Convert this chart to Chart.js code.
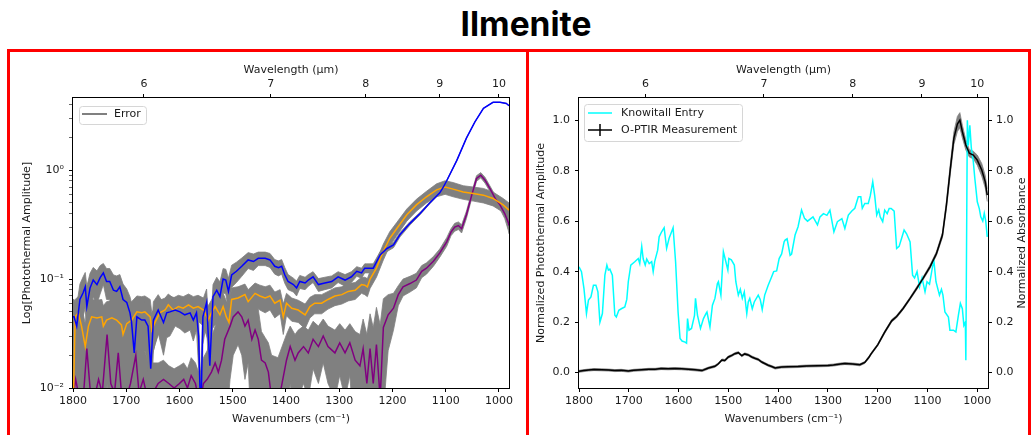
<!DOCTYPE html>
<html>
<head>
<meta charset="utf-8">
<script src="https://cdn.jsdelivr.net/npm/chart.js@4.4.0/dist/chart.umd.min.js"></script>
<style>
    html, body { margin: 0; padding: 0; background: #fff; }
    body { width: 1031px; height: 435px; position: relative; overflow: hidden; }
    #title { position: absolute; left: 376px; top: 8px; width: 300px; text-align: center;
             font-family: 'Inter', 'Noto Sans', sans-serif; font-weight: 700; font-size: 33.5px; line-height: 33px; color: #000; }
    #leftChart { position: absolute; left: 0; top: 0; }
    #rightChart { position: absolute; left: 529px; top: 0; }
    #frame { position: absolute; left: 7px; top: 49px; width: 1024px; height: 400px; box-sizing: border-box;
             border: 3px solid #ff0000; border-bottom: none; }
    #divider { position: absolute; left: 526px; top: 49px; width: 3px; height: 400px; background: #ff0000; }
</style>
</head>
<body>
<div id="title">Ilmenite</div>
<canvas id="leftChart" width="520" height="435"></canvas>
<canvas id="rightChart" width="502" height="435"></canvas>
<div id="frame"></div>
<div id="divider"></div>
<script>
"use strict";

// ---- axis ticks ----
const wavenumberTicks = [1800, 1700, 1600, 1500, 1400, 1300, 1200, 1100, 1000];
const wavelengthTicks = [6, 7, 8, 9, 10];
const logMajorTicks = [0.01, 0.1, 1];
const logMajorLabels = ['10⁻²', '10⁻¹', '10⁰'];
const normTicks = [0, 0.2, 0.4, 0.6, 0.8, 1.0];

// ---- left panel: photothermal amplitude (log) ----
const blueWn = [1800,1798,1793,1787,1781,1777,1774,1768,1762,1755,1749,1743,1737,1731,1724,1718,1712,1706,1699,1693,
    1690,1685,1680,1671,1665,1659,1654,1649,1640,1630,1624,1618,1608,1599,1590,1580,1574,1568,1564,1560,
    1556,1549,1543,1537,1530,1524,1518,1513,1508,1502,1493,1483,1471,1461,1452,1439,1430,1421,1414,1408,
    1402,1396,1386,1380,1374,1364,1358,1349,1339,1327,1314,1302,1289,1277,1267,1258,1252,1248,1236,1223,
    1211,1198,1186,1167,1148,1130,1111,1105,1098,1079,1061,1045,1029,1011,998,986,981];
const blueAmp = [0.045,0.045,0.037,0.065,0.075,0.085,0.056,0.083,0.098,0.089,0.103,0.114,0.095,0.095,0.079,0.077,0.085,0.065,0.061,0.049,
    0.040,0.021,0.045,0.042,0.042,0.037,0.015,0.042,0.052,0.040,0.049,0.050,0.052,0.050,0.047,0.049,0.042,0.049,0.030,0.005,
    0.045,0.061,0.016,0.069,0.079,0.069,0.100,0.098,0.077,0.109,0.118,0.131,0.150,0.145,0.155,0.155,0.150,0.131,0.127,0.131,
    0.109,0.095,0.089,0.083,0.095,0.092,0.098,0.105,0.089,0.092,0.095,0.105,0.098,0.105,0.118,0.114,0.126,0.126,0.126,0.167,
    0.190,0.206,0.255,0.325,0.400,0.500,0.620,0.690,0.800,1.23,1.97,2.78,3.70,4.20,4.20,4.10,3.90];
const blueErr = [0.02,0.02,0.02,0.025,0.03,0.03,0.03,0.03,0.03,0.03,0.03,0.025,0.03,0.03,0.03,0.03,0.025,0.025,0.02,0.02,
    0.02,0.015,0.02,0.02,0.02,0.02,0.01,0.02,0.02,0.02,0.02,0.02,0.015,0.015,0.015,0.015,0.015,0.015,0.015,0.005,
    0.02,0.02,0.01,0.02,0.025,0.025,0.025,0.025,0.025,0.025,0.025,0.025,0.025,0.025,0.022,0.022,0.022,0.02,0.02,0.02,
    0.018,0.015,0.013,0.013,0.013,0.012,0.012,0.012,0.012,0.012,0.012,0.012,0.012,0.012,0.012,0.012,0.012,0.012,0.012,0.012,
    0.012,0.012,0.012,0.012,0.01,0.01,0.01,0.01,0.01,0.01,0.01,0.01,0.01,0.01,0.01,0.01,0.01];

const orangeWn = [1800,1796,1790,1784,1777,1771,1765,1755,1746,1743,1737,1727,1718,1709,1706,1699,1690,1680,1671,1665,
    1655,1652,1646,1637,1627,1621,1612,1602,1593,1583,1574,1565,1555,1546,1540,1533,1524,1518,1512,1507,
    1502,1490,1477,1471,1458,1449,1439,1430,1421,1411,1405,1399,1389,1377,1364,1355,1346,1333,1321,1308,
    1295,1283,1270,1258,1252,1247,1242,1230,1217,1205,1192,1173,1155,1136,1117,1101,1086,1067,1048,1029,
    1011,992,981];
const orangeAmp = [0.005,0.045,0.049,0.037,0.024,0.037,0.045,0.044,0.045,0.037,0.042,0.044,0.042,0.038,0.031,0.039,0.042,0.050,0.049,0.050,
    0.045,0.034,0.040,0.049,0.052,0.058,0.052,0.056,0.054,0.058,0.054,0.056,0.052,0.042,0.049,0.056,0.047,0.056,0.045,0.040,
    0.065,0.067,0.072,0.062,0.074,0.070,0.067,0.070,0.060,0.064,0.045,0.060,0.054,0.052,0.047,0.056,0.060,0.060,0.065,0.070,
    0.072,0.077,0.079,0.089,0.088,0.085,0.100,0.126,0.180,0.237,0.290,0.390,0.480,0.570,0.660,0.700,0.670,0.630,0.610,0.590,
    0.550,0.480,0.430];
const orangeErr = [0.01,0.02,0.02,0.02,0.015,0.02,0.02,0.02,0.02,0.02,0.02,0.02,0.02,0.02,0.02,0.02,0.02,0.02,0.02,0.02,
    0.02,0.015,0.015,0.015,0.015,0.015,0.015,0.015,0.015,0.015,0.015,0.015,0.015,0.015,0.015,0.018,0.018,0.018,0.018,0.018,
    0.018,0.018,0.018,0.018,0.018,0.018,0.018,0.018,0.016,0.016,0.014,0.014,0.013,0.012,0.012,0.012,0.012,0.012,0.012,0.013,
    0.013,0.014,0.014,0.015,0.016,0.016,0.018,0.022,0.03,0.035,0.04,0.05,0.06,0.07,0.09,0.1,0.1,0.09,0.09,0.09,
    0.08,0.07,0.07];

const purpleWn = [1800,1795,1788,1780,1774,1768,1760,1752,1745,1736,1729,1722,1715,1709,1700,1692,1682,1676,1668,1660,
    1650,1640,1630,1620,1610,1600,1592,1585,1578,1570,1562,1555,1548,1540,1533,1527,1521,1515,1505,1499,
    1490,1483,1477,1471,1464,1458,1452,1446,1439,1433,1427,1415,1399,1392,1383,1377,1367,1358,1349,1339,
    1330,1321,1308,1299,1289,1280,1270,1261,1255,1248,1242,1236,1230,1223,1217,1208,1198,1189,1180,1167,
    1155,1145,1136,1123,1111,1098,1090,1083,1076,1070,1061,1051,1042,1034,1026,1017,1007,998,989,982,981];
const purpleAmp = [0.008,0.012,0.008,0.009,0.023,0.010,0.008,0.012,0.009,0.031,0.011,0.009,0.021,0.009,0.008,0.011,0.020,0.009,0.012,0.008,
    0.009,0.011,0.012,0.011,0.010,0.011,0.012,0.010,0.013,0.011,0.007,0.011,0.012,0.014,0.017,0.014,0.018,0.028,0.037,0.045,
    0.050,0.045,0.037,0.042,0.028,0.034,0.028,0.018,0.017,0.014,0.008,0.007,0.018,0.024,0.018,0.021,0.024,0.021,0.028,0.024,
    0.030,0.024,0.021,0.026,0.021,0.026,0.018,0.016,0.023,0.011,0.023,0.011,0.025,0.008,0.036,0.047,0.054,0.072,0.085,0.091,
    0.098,0.118,0.126,0.146,0.174,0.220,0.270,0.300,0.310,0.290,0.390,0.590,0.840,0.900,0.810,0.680,0.550,0.480,0.400,0.327,0.310];
const purpleErr = [0.02,0.02,0.02,0.02,0.02,0.02,0.02,0.02,0.02,0.02,0.02,0.02,0.02,0.018,0.015,0.015,0.015,0.015,0.012,0.01,
    0.008,0.006,0.006,0.005,0.005,0.005,0.005,0.005,0.006,0.006,0.006,0.008,0.01,0.015,0.02,0.02,0.025,0.025,0.025,0.025,
    0.025,0.025,0.025,0.025,0.025,0.025,0.025,0.015,0.012,0.012,0.012,0.012,0.013,0.013,0.013,0.013,0.013,0.013,0.013,0.013,
    0.013,0.013,0.013,0.013,0.013,0.013,0.015,0.015,0.02,0.02,0.025,0.025,0.03,0.03,0.03,0.025,0.02,0.015,0.015,0.015,
    0.015,0.015,0.015,0.015,0.015,0.02,0.02,0.025,0.025,0.025,0.03,0.04,0.05,0.05,0.05,0.04,0.04,0.04,0.04,0.05,0.05];

// ---- right panel: normalized spectra ----
const knowitallWn = [1800,1795,1790,1785,1781,1776,1771,1766,1762,1758,1753,1748,1744,1741,1738,1733,1728,1725,1720,1715,
    1708,1704,1701,1696,1688,1681,1678,1674,1671,1667,1664,1659,1654,1651,1648,1642,1639,1634,1629,1624,
    1619,1614,1611,1606,1601,1597,1593,1587,1584,1582,1579,1574,1568,1566,1562,1556,1550,1545,1543,1537,
    1532,1527,1522,1520,1515,1510,1505,1501,1499,1494,1488,1485,1480,1476,1472,1468,1463,1460,1457,1452,
    1448,1440,1436,1432,1427,1420,1413,1409,1403,1398,1393,1388,1386,1382,1376,1373,1366,1360,1353,1347,
    1341,1330,1321,1316,1309,1302,1296,1288,1281,1272,1266,1259,1252,1246,1239,1234,1231,1226,1219,1215,
    1210,1206,1202,1198,1195,1190,1186,1181,1177,1173,1167,1162,1157,1152,1147,1142,1135,1130,1126,1121,
    1116,1111,1105,1101,1096,1090,1087,1083,1076,1072,1069,1065,1058,1055,1048,1043,1038,1034,1030,1027,
    1024,1023,1020,1018,1015,1012,1008,1005,1000,996,993,989,986,983,980];
const knowitallAbs = [0.419,0.400,0.333,0.234,0.287,0.300,0.346,0.346,0.320,0.200,0.234,0.386,0.426,0.406,0.410,0.386,0.227,0.220,0.247,0.253,
    0.260,0.290,0.360,0.426,0.439,0.452,0.432,0.500,0.450,0.426,0.450,0.432,0.440,0.400,0.440,0.485,0.538,0.558,0.574,0.492,
    0.532,0.558,0.574,0.439,0.240,0.135,0.125,0.121,0.117,0.214,0.168,0.175,0.227,0.294,0.227,0.175,0.214,0.234,0.240,0.181,
    0.267,0.294,0.353,0.360,0.307,0.479,0.439,0.406,0.452,0.447,0.426,0.360,0.307,0.330,0.294,0.320,0.234,0.280,0.294,0.253,
    0.280,0.307,0.290,0.250,0.307,0.346,0.380,0.400,0.403,0.452,0.470,0.518,0.525,0.530,0.465,0.470,0.545,0.578,0.644,0.611,
    0.600,0.617,0.585,0.617,0.630,0.623,0.644,0.558,0.598,0.610,0.571,0.624,0.640,0.651,0.697,0.697,0.651,0.670,0.670,0.700,
    0.756,0.700,0.624,0.645,0.617,0.598,0.644,0.630,0.650,0.650,0.640,0.492,0.500,0.532,0.565,0.550,0.518,0.386,0.375,0.400,
    0.340,0.375,0.320,0.360,0.350,0.419,0.440,0.360,0.307,0.330,0.307,0.240,0.220,0.168,0.168,0.161,0.227,0.274,0.253,0.187,
    0.200,0.049,1.000,0.900,0.980,0.890,0.836,0.770,0.677,0.650,0.617,0.600,0.631,0.600,0.538];

const optirWn = [1800,1790,1781,1770,1754,1740,1728,1715,1701,1690,1674,1660,1647,1635,1621,1608,1594,1580,1567,1553,
    1545,1540,1527,1520,1513,1507,1500,1493,1487,1480,1473,1467,1460,1453,1447,1440,1433,1427,1420,1413,
    1406,1400,1393,1380,1360,1343,1320,1300,1289,1275,1266,1250,1236,1226,1218,1213,1200,1186,1172,1162,
    1149,1135,1122,1109,1095,1082,1070,1062,1054,1047,1040,1035,1030,1023,1016,1008,1000,991,984,980];
const optirAmp = [0.005,0.008,0.010,0.012,0.011,0.010,0.008,0.009,0.006,0.009,0.011,0.013,0.013,0.016,0.015,0.016,0.015,0.013,0.011,0.008,
    0.014,0.018,0.025,0.035,0.050,0.048,0.062,0.068,0.075,0.079,0.067,0.074,0.070,0.062,0.057,0.052,0.042,0.036,0.029,0.024,
    0.018,0.020,0.022,0.023,0.024,0.026,0.027,0.028,0.030,0.034,0.036,0.034,0.031,0.040,0.060,0.075,0.110,0.160,0.205,0.222,
    0.254,0.294,0.333,0.373,0.419,0.472,0.545,0.664,0.810,0.929,0.985,1.000,0.955,0.902,0.869,0.862,0.842,0.803,0.756,0.703];
const optirErr = [0.004,0.004,0.004,0.004,0.004,0.004,0.004,0.004,0.004,0.004,0.004,0.004,0.004,0.004,0.004,0.004,0.004,0.004,0.004,0.004,
    0.004,0.004,0.004,0.004,0.004,0.004,0.004,0.004,0.004,0.004,0.004,0.004,0.004,0.004,0.004,0.004,0.004,0.004,0.004,0.004,
    0.004,0.004,0.004,0.004,0.004,0.004,0.004,0.004,0.004,0.004,0.004,0.004,0.004,0.004,0.004,0.004,0.004,0.005,0.005,0.005,
    0.005,0.005,0.006,0.006,0.007,0.008,0.01,0.015,0.02,0.025,0.03,0.03,0.025,0.02,0.015,0.015,0.02,0.025,0.025,0.025];

const GRAY = '#808080';
const INK = '#1a1a1a';

Chart.defaults.font.family = "'DejaVu Sans', sans-serif";
Chart.defaults.font.size = 11;
Chart.defaults.color = INK;

function toPoints(wn, vals) {
    return wn.map((w, i) => ({ x: w, y: vals[i] }));
}

// upper / lower edge of an error band, lower edge floored for log axes
function errorBand(wn, vals, err, floor) {
    return {
        hi: wn.map((w, i) => ({ x: w, y: vals[i] + err[i] })),
        lo: wn.map((w, i) => ({ x: w, y: Math.max(vals[i] - err[i], floor) }))
    };
}

function lineSet(wn, vals, color, order, yAxisID) {
    return {
        data: toPoints(wn, vals), yAxisID: yAxisID || 'y',
        borderColor: color, borderWidth: 1.5, pointRadius: 0, fill: false, tension: 0, order: order
    };
}

function bandSets(band, order, yAxisID) {
    return [
        { data: band.hi, yAxisID: yAxisID || 'y', borderColor: GRAY, borderWidth: 0.8, pointRadius: 0,
          backgroundColor: GRAY, fill: '+1', order: order },
        { data: band.lo, yAxisID: yAxisID || 'y', borderColor: GRAY, borderWidth: 0.8, pointRadius: 0,
          fill: false, order: order + 1 }
    ];
}

const tickGrid = { drawOnChartArea: false, tickLength: 4, tickColor: '#000', tickWidth: 1 };

function bottomAxis(min) {
    return {
        type: 'linear', position: 'bottom', min: min, max: 1800, reverse: true,
        afterBuildTicks: (s) => { s.ticks = wavenumberTicks.map(v => ({ value: v })); },
        afterFit: (s) => { s.height = 47; },
        ticks: { autoSkip: false, maxRotation: 0, padding: 3, callback: (v) => String(v) },
        grid: tickGrid,
        border: { display: false },
        title: { display: true, text: 'Wavenumbers (cm⁻¹)', padding: { top: 0, bottom: 9 } }
    };
}

function topAxis(min) {
    return {
        type: 'linear', position: 'top', min: min, max: 1800, reverse: true,
        afterBuildTicks: (s) => { s.ticks = wavelengthTicks.map(l => ({ value: 10000 / l })); },
        afterFit: (s) => { s.height = 46; },
        ticks: { autoSkip: false, maxRotation: 0, padding: 3, callback: (v, i) => String(wavelengthTicks[i]) },
        grid: tickGrid,
        border: { display: false },
        title: { display: true, text: 'Wavelength (μm)', padding: { top: 12, bottom: 0 } }
    };
}

function normAxis(position, width, pad) {
    return {
        type: 'linear', position: position, min: -0.061, max: 1.088,
        afterBuildTicks: (s) => { s.ticks = normTicks.map(v => ({ value: v })); },
        afterFit: (s) => { s.width = width; },
        ticks: { autoSkip: false, padding: pad, callback: (v) => v.toFixed(1) },
        grid: tickGrid,
        border: { display: false }
    };
}

// black box round the plot area, like matplotlib spines
const axesFrame = {
    id: 'axesFrame',
    afterDatasetsDraw(chart) {
        const { ctx, chartArea: a } = chart;
        ctx.save();
        ctx.strokeStyle = '#000';
        ctx.lineWidth = 1;
        ctx.strokeRect(Math.round(a.left) - 0.5, Math.round(a.top) - 0.5,
            Math.round(a.right - a.left) + 1, Math.round(a.bottom - a.top) + 1);
        ctx.restore();
    }
};

// legend box drawn inside the axes
const boxLegend = {
    id: 'boxLegend',
    afterDraw(chart, args, opts) {
        if (!opts.items) return;
        const ctx = chart.ctx;
        const [bx, by, bw, bh] = opts.box;
        ctx.save();
        ctx.fillStyle = 'rgba(255,255,255,0.85)';
        ctx.strokeStyle = '#d6d6d6';
        ctx.lineWidth = 1;
        ctx.beginPath();
        ctx.roundRect(bx + 0.5, by + 0.5, bw, bh, 3);
        ctx.fill();
        ctx.stroke();
        ctx.font = "11px 'DejaVu Sans', sans-serif";
        ctx.textBaseline = 'middle';
        opts.items.forEach(it => {
            ctx.strokeStyle = it.color;
            ctx.lineWidth = it.width;
            ctx.beginPath();
            ctx.moveTo(it.x1, it.y);
            ctx.lineTo(it.x2, it.y);
            if (it.errTick) {
                const mx = (it.x1 + it.x2) / 2;
                ctx.moveTo(mx, it.y - 6);
                ctx.lineTo(mx, it.y + 6);
            }
            ctx.stroke();
            ctx.fillStyle = INK;
            ctx.fillText(it.label, it.textX, it.y + 0.5);
        });
        ctx.restore();
    }
};

// right-hand y label, reading bottom to top
const sideTitle = {
    id: 'sideTitle',
    afterDraw(chart, args, opts) {
        if (!opts.text) return;
        const ctx = chart.ctx;
        ctx.save();
        ctx.translate(opts.x, opts.y);
        ctx.rotate(-Math.PI / 2);
        ctx.font = "11px 'DejaVu Sans', sans-serif";
        ctx.fillStyle = INK;
        ctx.textAlign = 'center';
        ctx.textBaseline = 'middle';
        ctx.fillText(opts.text, 0, 0);
        ctx.restore();
    }
};

const logTickValues = [];
logMajorTicks.forEach(m => {
    for (let k = 1; k <= 9; k++) {
        if (m * k <= 4.6) logTickValues.push(m * k);
    }
});

const blueBand = errorBand(blueWn, blueAmp, blueErr, 0.001);
const orangeBand = errorBand(orangeWn, orangeAmp, orangeErr, 0.001);
const purpleBand = errorBand(purpleWn, purpleAmp, purpleErr, 0.001);
const optirBand = errorBand(optirWn, optirAmp, optirErr, -1);

new Chart(document.getElementById('leftChart'), {
    type: 'line',
    data: {
        datasets: [
            lineSet(blueWn, blueAmp, '#0000ff', 1),
            lineSet(orangeWn, orangeAmp, '#ffa500', 2),
            lineSet(purpleWn, purpleAmp, '#800080', 3),
            ...bandSets(blueBand, 10),
            ...bandSets(orangeBand, 12),
            ...bandSets(purpleBand, 14)
        ]
    },
    options: {
        responsive: false,
        animation: false,
        events: [],
        layout: { padding: { top: 52, right: 11, bottom: 0, left: 0 } },
        scales: {
            x: bottomAxis(981),
            xTop: topAxis(981),
            y: {
                type: 'logarithmic', position: 'left', min: 0.01, max: 4.6,
                afterBuildTicks: (s) => {
                    s.ticks = logTickValues.map(v => ({ value: v, major: logMajorTicks.includes(v) }));
                },
                afterFit: (s) => { s.width = 73; },
                ticks: {
                    autoSkip: false, padding: 5,
                    callback: (v) => {
                        const k = logMajorTicks.indexOf(v);
                        return k >= 0 ? logMajorLabels[k] : '';
                    }
                },
                grid: {
                    drawOnChartArea: false, tickLength: 4, tickColor: '#000',
                    tickWidth: (c) => (c.tick && c.tick.major) ? 1 : 0.6
                },
                border: { display: false },
                title: { display: true, text: 'Log[Photothermal Amplitude]', padding: { top: 21, bottom: 0 } }
            }
        },
        plugins: {
            legend: { display: false },
            tooltip: { enabled: false },
            boxLegend: {
                box: [79, 106, 67, 18],
                items: [{ label: 'Error', color: GRAY, width: 2, x1: 82, x2: 107, y: 114, textX: 114 }]
            }
        }
    },
    plugins: [axesFrame, boxLegend]
});

new Chart(document.getElementById('rightChart'), {
    type: 'line',
    data: {
        datasets: [
            lineSet(optirWn, optirAmp, '#000000', 1, 'y'),
            lineSet(knowitallWn, knowitallAbs, '#00ffff', 2, 'y2'),
            ...bandSets(optirBand, 10, 'y')
        ]
    },
    options: {
        responsive: false,
        animation: false,
        events: [],
        layout: { padding: { top: 52, right: 0, bottom: 0, left: 0 } },
        scales: {
            x: bottomAxis(978.5),
            xTop: topAxis(978.5),
            y: Object.assign(normAxis('left', 50, 5), {
                title: { display: true, text: 'Normalized Photothermal Amplitude', padding: { top: 6, bottom: 0 } }
            }),
            y2: normAxis('right', 43, 4)
        },
        plugins: {
            legend: { display: false },
            tooltip: { enabled: false },
            boxLegend: {
                box: [55, 104, 158, 37],
                items: [
                    { label: 'Knowitall Entry', color: '#00ffff', width: 1.5, x1: 59, x2: 83, y: 113, textX: 92 },
                    { label: 'O-PTIR Measurement', color: '#000000', width: 1.5, x1: 59, x2: 83, y: 130, textX: 92, errTick: true }
                ]
            },
            sideTitle: { text: 'Normalized Absorbance', x: 493, y: 243 }
        }
    },
    plugins: [axesFrame, boxLegend, sideTitle]
});
</script>
</body>
</html>
